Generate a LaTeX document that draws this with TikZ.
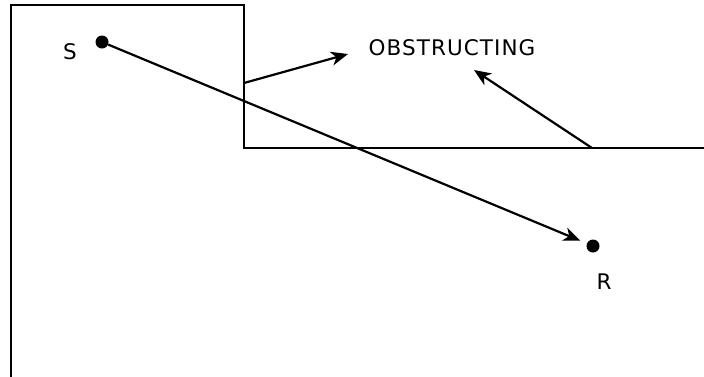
\documentclass[tikz,border=0pt]{standalone}
\usepackage{fontspec}
\setmainfont{DejaVu Sans}
\usetikzlibrary{arrows.meta}
\tikzset{
  wall/.style={line width=2.2pt, line cap=rect},
  ray/.style={line width=2.2pt, -{Stealth[length=17pt,width=14pt,inset=5pt]}},
  dotnode/.style={circle, fill=black, inner sep=0pt, minimum size=13pt},
  lbl/.style={inner sep=0pt, font=\fontsize{21.5}{24}\selectfont\addfontfeatures{LetterSpace=5}}
}
\begin{document}
\begin{tikzpicture}[x=1pt,y=-1pt]
\useasboundingbox (0,0) rectangle (704,376);
\draw[wall] (11,376) -- (11,5) -- (244,5) -- (244,148) -- (704,148);
\node[dotnode] (S) at (102,42) {};
\node[dotnode] (R) at (593,246) {};
\node[lbl] (Slbl) at (70,52) {S};
\node[lbl] (Rlbl) at (604,282) {R};
\node[lbl] (obs) at (452,48) {OBSTRUCTING};
\draw[ray, shorten >=7pt] (S) -- (R);
\coordinate (a1) at (244,83);
\coordinate (a1t) at (348,54);
\coordinate (a2) at (592,148);
\coordinate (a2t) at (474,70);
\draw[ray] (a1) -- (a1t);
\draw[ray] (a2) -- (a2t);
\end{tikzpicture}
\end{document}
